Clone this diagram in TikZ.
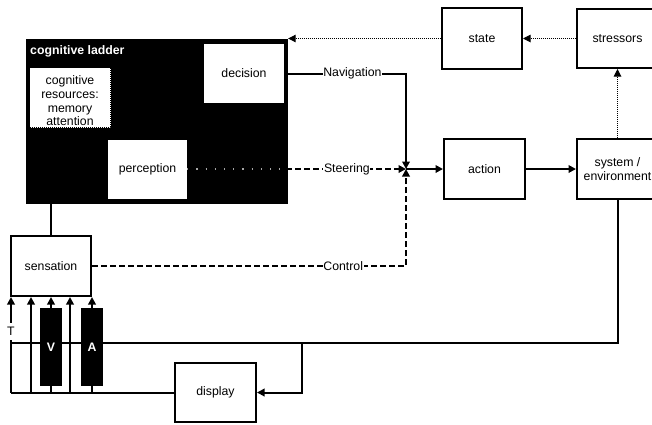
\documentclass[tikz,border=0pt]{standalone}
\usepackage{fontspec}
\setmainfont{Liberation Sans}
\usetikzlibrary{arrows.meta}

\begin{document}
\begin{tikzpicture}[x=1pt,y=-1pt,
  font=\fontsize{12.3}{14}\selectfont,
  box/.style={draw, line width=2pt, fill=white, inner sep=0pt,
    minimum width=81pt, minimum height=60pt, align=center},
  wbox/.style={fill=white, inner sep=0pt, minimum width=79pt,
    minimum height=59pt, align=center},
  bbar/.style={fill=black, inner sep=0pt, minimum width=22pt,
    minimum height=78pt, text=white, font=\fontsize{12.3}{14}\selectfont\bfseries},
  lbl/.style={fill=white, inner sep=0.6pt},
  conn/.style={line width=2pt},
  tip/.style={-{Triangle[length=7.5pt,width=7.5pt]}},
  dashedline/.style={line width=2pt, dash pattern=on 6pt off 3pt},
  dotline/.style={line width=1pt, dash pattern=on 1pt off 1pt},
  faintdots/.style={line width=1.2pt, gray!70, dash pattern=on 1.2pt off 8pt}]
\useasboundingbox (0,0) rectangle (652,424);

% cognitive ladder block
\node[fill=black, inner sep=0pt, minimum width=262pt, minimum height=165pt]
  (ladder) at (157,121.5) {};
\node[anchor=west, text=white, inner sep=0pt,
  font=\fontsize{12.3}{14}\selectfont\bfseries] (title) at (30,51) {cognitive ladder};
\node[fill=white, draw, line width=1pt, dash pattern=on 1pt off 1pt,
  inner sep=0pt, minimum width=81pt, minimum height=60pt] (res) at (70,97.5) {};
\node[align=center, inner sep=0pt, font=\fontsize{12.3}{13.7}\selectfont]
  (restext) at (70,101) {cognitive\\resources:\\memory\\attention};
\node[wbox, minimum width=80pt] (decision) at (244,73.5) {decision};
\node[wbox] (perception) at (147.5,169) {perception};

% other blocks
\node[box, minimum width=80pt] (sensation) at (51,266) {sensation};
\node[box] (action) at (484.5,169) {action};
\node[box] (system) at (617.5,169) {system /\\environment};
\node[box, minimum width=80pt, minimum height=61pt] (state) at (482,38.5) {state};
\node[box, minimum height=59pt] (stressors) at (617.5,38.5) {stressors};
\node[box, minimum height=59pt] (display) at (215.5,392.5) {display};

\coordinate (j) at (406,169);
\coordinate (tl) at (11,343);
\coordinate (bus) at (302,343);

% ladder to sensation
\draw[conn] (sensation.north) -- (sensation.north |- ladder.south);

% control paths into the junction
\draw[conn,tip] (decision.east) -| node[lbl, pos=0.28] {Navigation} (j);
\draw[dashedline,tip] (perception.east) -- node[lbl, pos=0.73] {Steering} (j);
\draw[faintdots] (perception.east) -- (perception.east -| ladder.east);
\draw[dashedline,tip] (sensation.east) -| node[lbl, pos=0.4] {Control} (j);
\draw[conn,tip] (j) -- (action.west);
\draw[conn,tip] (action.east) -- (system.west);

% stressor and state feedback
\draw[dotline,tip] (system.north) -- (stressors.south);
\draw[dotline,tip] (stressors.west) -- (state.east);
\draw[dotline,tip] (state.west) -- (state.west -| ladder.east);

% environment feedback bus
\draw[conn] (system.south) |- (tl);
\draw[conn,tip] (bus) |- (display.east);
\draw[conn] (display.west) -- (display.west -| tl);

% sensory channels
\node[bbar] (V) at (51,347) {V};
\node[bbar] (A) at (92,347) {A};
\draw[conn,tip] (display.west -| tl) -- node[fill=white, inner xsep=1pt, inner ysep=4pt, pos=0.64] (T) {T} (sensation.south -| tl);
\draw[conn,tip] (display.west -| 31,0) -- (sensation.south -| 31,0);
\draw[conn,tip] (display.west -| 70,0) -- (sensation.south -| 70,0);
\draw[conn,tip] (V.north) -- (V.north |- sensation.south);
\draw[conn] (V.south) -- (V.south |- display.west);
\draw[conn,tip] (A.north) -- (A.north |- sensation.south);
\draw[conn] (A.south) -- (A.south |- display.west);
\end{tikzpicture}
\end{document}
